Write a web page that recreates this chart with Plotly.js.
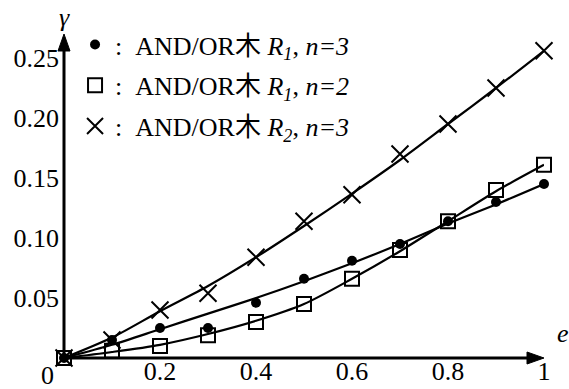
<!DOCTYPE html>
<html>
<head>
<meta charset="utf-8">
<script src="https://cdn.plot.ly/plotly-3.0.1.min.js"></script>
<style>html,body{margin:0;padding:0;background:#fff;}#chart{width:569px;height:389px;}</style>
</head>
<body>
<div id="chart"></div>
<script>
// error rate e
const eValues = [0, 0.1, 0.2, 0.3, 0.4, 0.5, 0.6, 0.7, 0.8, 0.9, 1.0];
// measured gamma
const r1n3 = [0, 0.015, 0.025, 0.025, 0.046, 0.066, 0.081, 0.095, 0.114, 0.130, 0.145];
const r1n2 = [0, 0.006, 0.010, 0.019, 0.030, 0.045, 0.066, 0.090, 0.114, 0.140, 0.161];
const r2n3 = [0, 0.015, 0.040, 0.054, 0.084, 0.114, 0.136, 0.170, 0.195, 0.225, 0.256];
// fitted curves
const fitR1n3 = [0, 0.011, 0.024, 0.037, 0.050, 0.064, 0.079, 0.095, 0.112, 0.128, 0.145];
const fitR1n2 = [0, 0.005, 0.011, 0.020, 0.031, 0.045, 0.066, 0.089, 0.114, 0.139, 0.161];
const fitR2n3 = [0, 0.017, 0.039, 0.060, 0.084, 0.110, 0.137, 0.165, 0.195, 0.225, 0.256];

const NB = '\u00a0';
const seriesNames = [
  ':' + NB + NB + 'AND/OR木' + NB + '<i>R</i><sub><i>1</i></sub>,' + NB + '<i>n=3</i>',
  ':' + NB + NB + 'AND/OR木' + NB + '<i>R</i><sub><i>1</i></sub>,' + NB + '<i>n=2</i>',
  ':' + NB + NB + 'AND/OR木' + NB + '<i>R</i><sub><i>2</i></sub>,' + NB + '<i>n=3</i>'
];
const xTickVals = [0.2, 0.4, 0.6, 0.8, 1.0];
const xTickText = ['0.2', '0.4', '0.6', '0.8', '1'];
const yTickVals = [0.05, 0.10, 0.15, 0.20, 0.25];
const yTickText = ['0.05', '0.10', '0.15', '0.20', '0.25'];

const FONT = 'Liberation Serif, Times New Roman, Noto Sans CJK JP, serif';
const YMAX = 0.27;

function lineTrace(y) {
  return {x: eValues, y: y, mode: 'lines', type: 'scatter', showlegend: false,
    line: {color: '#000', width: 2.2, shape: 'spline', smoothing: 0.8}, cliponaxis: false, hoverinfo: 'skip'};
}
const traces = [
  lineTrace(fitR1n3), lineTrace(fitR1n2), lineTrace(fitR2n3),
  {x: eValues, y: r1n3, mode: 'markers', type: 'scatter', name: seriesNames[0], legendgroup: 'a',
    marker: {symbol: 'circle', size: 10, color: '#000'}, cliponaxis: false},
  {x: eValues, y: r1n2, mode: 'markers', type: 'scatter', name: seriesNames[1], legendgroup: 'b',
    marker: {symbol: 'square-open', size: 14, color: '#000', line: {width: 2, color: '#000'}}, cliponaxis: false},
  {x: eValues, y: r2n3, mode: 'markers', type: 'scatter', name: seriesNames[2], legendgroup: 'c',
    marker: {symbol: 'x-thin-open', size: 17, color: '#000', line: {width: 2, color: '#000'}}, cliponaxis: false}
];

const layout = {
  width: 569, height: 389,
  margin: {l: 64, r: 25, t: 34, b: 31},
  paper_bgcolor: '#fff', plot_bgcolor: '#fff',
  font: {family: FONT, size: 26, color: '#000'},
  showlegend: true,
  legend: {x: 0.023, y: 1.04, xanchor: 'left', yanchor: 'top', bgcolor: 'rgba(0,0,0,0)',
    borderwidth: 0, tracegroupgap: 4, font: {family: FONT, size: 26, color: '#000'}},
  xaxis: {range: [0, 1], showgrid: false, zeroline: false, showline: false, ticks: '',
    tickvals: xTickVals, ticktext: xTickText, tickfont: {family: FONT, size: 26}, ticklabelstandoff: -5},
  yaxis: {range: [0, YMAX], showgrid: false, zeroline: false, showline: false, ticks: '',
    tickvals: yTickVals, ticktext: yTickText, tickfont: {family: FONT, size: 26}, ticklabelstandoff: 4},
  shapes: [
    {type: 'line', xref: 'paper', yref: 'paper', x0: 0, y0: 0, x1: 0.985, y1: 0, line: {color: '#000', width: 3}},
    {type: 'line', xref: 'paper', yref: 'paper', x0: 0, y0: 0, x1: 0, y1: 0.97, line: {color: '#000', width: 3}},
    {type: 'path', xref: 'paper', yref: 'paper', xsizemode: 'pixel', ysizemode: 'pixel', xanchor: 1, yanchor: 0,
      path: 'M0,0 L-17,6 L-17,-6 Z', fillcolor: '#000', line: {color: '#000', width: 1}},
    {type: 'path', xref: 'paper', yref: 'paper', xsizemode: 'pixel', ysizemode: 'pixel', xanchor: 0, yanchor: 1,
      path: 'M0,0 L-6,-17 L6,-17 Z', fillcolor: '#000', line: {color: '#000', width: 1}}
  ],
  annotations: [
    {xref: 'paper', yref: 'paper', x: 0, y: 0, xanchor: 'center', yanchor: 'middle', text: '0', showarrow: false,
      xshift: -17, yshift: -17, font: {family: FONT, size: 26}},
    {xref: 'paper', yref: 'paper', x: 1, y: 0, xanchor: 'center', yanchor: 'middle', text: '<i>e</i>', showarrow: false,
      xshift: 19, yshift: 25, font: {family: FONT, size: 26}},
    {xref: 'paper', yref: 'paper', x: 0, y: 1, xanchor: 'center', yanchor: 'middle', text: '<i>γ</i>', showarrow: false,
      xshift: 0, yshift: 17, font: {family: FONT, size: 26}}
  ]
};

Plotly.newPlot('chart', traces, layout, {staticPlot: true});
</script>
</body>
</html>
